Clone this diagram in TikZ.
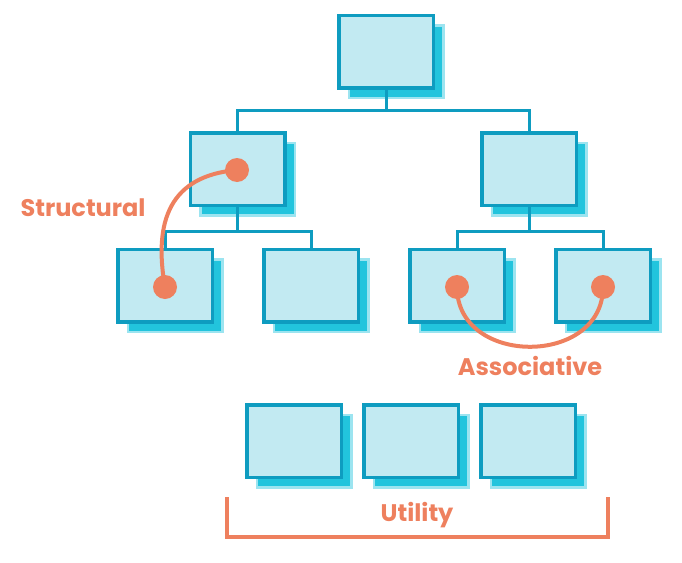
\documentclass[tikz,border=0pt]{standalone}
\usepackage{fontspec}
\setmainfont{Poppins}
\usetikzlibrary{positioning,shadows}
\definecolor{BoxBlue}{HTML}{0E9CC0}
\definecolor{BoxFill}{HTML}{C2EAF2}
\definecolor{ShadowCyan}{HTML}{22C4DD}
\definecolor{LinkOrange}{HTML}{EE805E}
\begin{document}
\begin{tikzpicture}[x=1pt,y=-1pt,node distance=48pt]
\tikzstyle{module}=[rectangle,draw=BoxBlue,fill=BoxFill,line width=3.5pt,minimum width=94.5pt,minimum height=72.5pt,
  drop shadow={shadow xshift=10pt,shadow yshift=-10pt,fill=ShadowCyan,draw=ShadowCyan!45,line width=2.5pt,opacity=1}]
\tikzstyle{wire}=[draw=BoxBlue,line width=3pt]
\tikzstyle{dot}=[circle,fill=LinkOrange,minimum size=24pt,inner sep=0pt]
\tikzstyle{link}=[draw=LinkOrange,line width=4pt]
\tikzstyle{tag}=[text=LinkOrange,font=\fontsize{24}{28}\selectfont\bfseries]
\useasboundingbox (0,0) rectangle (682,562);
% tree
\node[module] (root) at (386,51.5) {};
\node[module] (mid1) at (237.5,169) {};
\node[module] (mid2) at (529,169) {};
\node[module] (leaf1) at (165,285.5) {};
\node[module,right=of leaf1] (leaf2) {};
\node[module] (leaf3) at (457,285.5) {};
\node[module,right=of leaf3] (leaf4) {};
\draw[wire] (root.south) -- ++(0,21) -| (mid1.north);
\draw[wire] (root.south) -- ++(0,21) -| (mid2.north);
\draw[wire] (mid1.south) -- ++(0,24) -| (leaf1.north);
\draw[wire] (mid1.south) -- ++(0,24) -| (leaf2.north);
\draw[wire] (mid2.south) -- ++(0,24) -| (leaf3.north);
\draw[wire] (mid2.south) -- ++(0,24) -| (leaf4.north);
% utility row
\node[module] (util1) at (294,441) {};
\node[module,right=19pt of util1] (util2) {};
\node[module,right=19pt of util2] (util3) {};
% links
\node[dot] (s1) at (237,170) {};
\node[dot] (s2) at (165,287) {};
\node[dot] (a1) at (457,287) {};
\node[dot] (a2) at (603,287) {};
\draw[link] (s1.center) to[out=185,in=100,looseness=1.25] (s2.center);
\draw[link] (a1.center) to[out=-90,in=-90,looseness=1.4] (a2.center);
\node[tag,anchor=west] (structural) at (17,208) {Structural};
\node[tag] (associative) at (530,366) {Associative};
% bracket
\coordinate (bl) at (227,497);
\coordinate (br) at (608,497);
\draw[link,line width=3.5pt] (bl) -- ++(0,40) -| (br);
\node[tag] (utility) at (417,515) {Utility};
\end{tikzpicture}
\end{document}
